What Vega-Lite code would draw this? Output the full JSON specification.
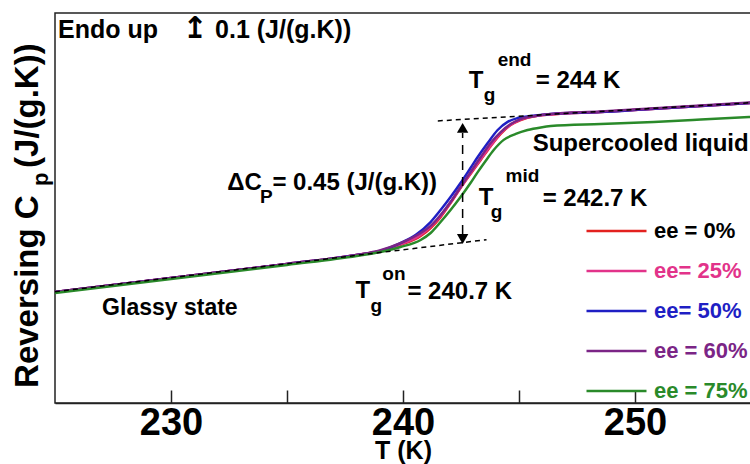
{
  "$schema": "https://vega.github.io/schema/vega-lite/v6.json",
  "width": 696,
  "height": 390,
  "autosize": {"type": "none"},
  "padding": {"left": 55, "top": 13, "right": 0, "bottom": 61},
  "background": "white",
  "config": {
    "font": "Liberation Sans",
    "view": {"stroke": "#222", "strokeWidth": 1.5}
  },
  "datasets": {
    "curves": [
      {"s":"ee = 0%","T":225,"Cp":1.427},{"s":"ee = 0%","T":230,"Cp":1.481},{"s":"ee = 0%","T":235,"Cp":1.535},{"s":"ee = 0%","T":238,"Cp":1.569},{"s":"ee = 0%","T":239.03,"Cp":1.585},{"s":"ee = 0%","T":239.89,"Cp":1.608},{"s":"ee = 0%","T":240.76,"Cp":1.642},{"s":"ee = 0%","T":241.62,"Cp":1.715},{"s":"ee = 0%","T":242.05,"Cp":1.769},{"s":"ee = 0%","T":242.48,"Cp":1.827},{"s":"ee = 0%","T":242.91,"Cp":1.881},{"s":"ee = 0%","T":243.35,"Cp":1.935},{"s":"ee = 0%","T":243.78,"Cp":1.988},{"s":"ee = 0%","T":244.21,"Cp":2.035},{"s":"ee = 0%","T":244.64,"Cp":2.069},{"s":"ee = 0%","T":245.07,"Cp":2.088},{"s":"ee = 0%","T":245.72,"Cp":2.104},{"s":"ee = 0%","T":246.37,"Cp":2.11},{"s":"ee = 0%","T":248.52,"Cp":2.119},{"s":"ee = 0%","T":250.68,"Cp":2.131},{"s":"ee = 0%","T":252.84,"Cp":2.142},{"s":"ee = 0%","T":255,"Cp":2.154},
      {"s":"ee= 25%","T":225,"Cp":1.427},{"s":"ee= 25%","T":230,"Cp":1.481},{"s":"ee= 25%","T":235,"Cp":1.535},{"s":"ee= 25%","T":238,"Cp":1.569},{"s":"ee= 25%","T":239.03,"Cp":1.585},{"s":"ee= 25%","T":239.89,"Cp":1.61},{"s":"ee= 25%","T":240.76,"Cp":1.646},{"s":"ee= 25%","T":241.62,"Cp":1.719},{"s":"ee= 25%","T":242.05,"Cp":1.772},{"s":"ee= 25%","T":242.48,"Cp":1.829},{"s":"ee= 25%","T":242.91,"Cp":1.884},{"s":"ee= 25%","T":243.35,"Cp":1.938},{"s":"ee= 25%","T":243.78,"Cp":1.99},{"s":"ee= 25%","T":244.21,"Cp":2.038},{"s":"ee= 25%","T":244.64,"Cp":2.07},{"s":"ee= 25%","T":245.07,"Cp":2.09},{"s":"ee= 25%","T":245.72,"Cp":2.104},{"s":"ee= 25%","T":246.37,"Cp":2.11},{"s":"ee= 25%","T":248.52,"Cp":2.119},{"s":"ee= 25%","T":250.68,"Cp":2.131},{"s":"ee= 25%","T":252.84,"Cp":2.142},{"s":"ee= 25%","T":255,"Cp":2.154},
      {"s":"ee= 50%","T":225,"Cp":1.427},{"s":"ee= 50%","T":230,"Cp":1.481},{"s":"ee= 50%","T":235,"Cp":1.535},{"s":"ee= 50%","T":238,"Cp":1.569},{"s":"ee= 50%","T":239.03,"Cp":1.585},{"s":"ee= 50%","T":239.89,"Cp":1.615},{"s":"ee= 50%","T":240.54,"Cp":1.646},{"s":"ee= 50%","T":241.19,"Cp":1.696},{"s":"ee= 50%","T":241.62,"Cp":1.742},{"s":"ee= 50%","T":242.05,"Cp":1.792},{"s":"ee= 50%","T":242.48,"Cp":1.846},{"s":"ee= 50%","T":242.91,"Cp":1.904},{"s":"ee= 50%","T":243.22,"Cp":1.946},{"s":"ee= 50%","T":243.65,"Cp":2.0},{"s":"ee= 50%","T":244.08,"Cp":2.05},{"s":"ee= 50%","T":244.51,"Cp":2.081},{"s":"ee= 50%","T":244.94,"Cp":2.096},{"s":"ee= 50%","T":245.5,"Cp":2.104},{"s":"ee= 50%","T":246.37,"Cp":2.112},{"s":"ee= 50%","T":248.52,"Cp":2.119},{"s":"ee= 50%","T":250.68,"Cp":2.131},{"s":"ee= 50%","T":252.84,"Cp":2.142},{"s":"ee= 50%","T":255,"Cp":2.154},
      {"s":"ee = 60%","T":225,"Cp":1.427},{"s":"ee = 60%","T":230,"Cp":1.481},{"s":"ee = 60%","T":235,"Cp":1.535},{"s":"ee = 60%","T":238,"Cp":1.569},{"s":"ee = 60%","T":239.03,"Cp":1.588},{"s":"ee = 60%","T":239.89,"Cp":1.615},{"s":"ee = 60%","T":240.76,"Cp":1.654},{"s":"ee = 60%","T":241.19,"Cp":1.681},{"s":"ee = 60%","T":241.62,"Cp":1.723},{"s":"ee = 60%","T":242.05,"Cp":1.773},{"s":"ee = 60%","T":242.48,"Cp":1.831},{"s":"ee = 60%","T":242.91,"Cp":1.888},{"s":"ee = 60%","T":243.35,"Cp":1.946},{"s":"ee = 60%","T":243.78,"Cp":2.0},{"s":"ee = 60%","T":244.21,"Cp":2.042},{"s":"ee = 60%","T":244.64,"Cp":2.073},{"s":"ee = 60%","T":245.07,"Cp":2.092},{"s":"ee = 60%","T":245.72,"Cp":2.104},{"s":"ee = 60%","T":246.37,"Cp":2.112},{"s":"ee = 60%","T":248.52,"Cp":2.121},{"s":"ee = 60%","T":250.68,"Cp":2.133},{"s":"ee = 60%","T":252.84,"Cp":2.144},{"s":"ee = 60%","T":255,"Cp":2.156},
      {"s":"ee = 75%","T":225,"Cp":1.423},{"s":"ee = 75%","T":230,"Cp":1.477},{"s":"ee = 75%","T":235,"Cp":1.531},{"s":"ee = 75%","T":238,"Cp":1.565},{"s":"ee = 75%","T":239.03,"Cp":1.581},{"s":"ee = 75%","T":239.89,"Cp":1.6},{"s":"ee = 75%","T":240.76,"Cp":1.627},{"s":"ee = 75%","T":241.19,"Cp":1.654},{"s":"ee = 75%","T":241.62,"Cp":1.696},{"s":"ee = 75%","T":242.05,"Cp":1.742},{"s":"ee = 75%","T":242.48,"Cp":1.792},{"s":"ee = 75%","T":242.91,"Cp":1.846},{"s":"ee = 75%","T":243.22,"Cp":1.888},{"s":"ee = 75%","T":243.56,"Cp":1.931},{"s":"ee = 75%","T":243.91,"Cp":1.973},{"s":"ee = 75%","T":244.34,"Cp":2.012},{"s":"ee = 75%","T":244.86,"Cp":2.035},{"s":"ee = 75%","T":245.37,"Cp":2.05},{"s":"ee = 75%","T":245.94,"Cp":2.06},{"s":"ee = 75%","T":246.37,"Cp":2.065},{"s":"ee = 75%","T":248.52,"Cp":2.073},{"s":"ee = 75%","T":250.81,"Cp":2.081},{"s":"ee = 75%","T":252.84,"Cp":2.09},{"s":"ee = 75%","T":255,"Cp":2.1}
    ],
    "tangents": [
      {"seg":"glass","T":225,"Cp":1.428},{"seg":"glass","T":243.6,"Cp":1.628},
      {"seg":"liquid","T":241.5,"Cp":2.085},{"seg":"liquid","T":255,"Cp":2.155}
    ],
    "arrowline": [{"T":242.57,"Cp":1.65,"Cp2":2.0385}],
    "arrowheads": [{"T":242.57,"Cp":2.058,"dir":"up"},{"T":242.57,"Cp":1.631,"dir":"down"}],
    "text24": [
      {"T":232.42,"Cp":1.819,"label":"ΔC"},
      {"T":234.37,"Cp":1.819,"label":"= 0.45 (J/(g.K))"},
      {"T":237.95,"Cp":1.404,"label":"T"},
      {"T":240.19,"Cp":1.4,"label":"= 240.7 K"},
      {"T":243.26,"Cp":1.7615,"label":"T"},
      {"T":246.02,"Cp":1.758,"label":"= 242.7 K"},
      {"T":242.83,"Cp":2.2115,"label":"T"},
      {"T":245.72,"Cp":2.2115,"label":"= 244 K"},
      {"T":245.59,"Cp":1.969,"label":"Supercooled liquid"}
    ],
    "text25": [
      {"T":225.13,"Cp":2.404,"label":"Endo up"},
      {"T":231.9,"Cp":2.404,"label":"0.1 (J/(g.K))"}
    ],
    "arrowglyph": [
      {"T":230.5,"Cp":2.404,"label":"↥"}
    ],
    "text19": [
      {"T":233.84,"Cp":1.769,"label":"P"},
      {"T":238.6,"Cp":1.35,"label":"g"},
      {"T":239.11,"Cp":1.473,"label":"on"},
      {"T":243.78,"Cp":1.7115,"label":"g"},
      {"T":244.42,"Cp":1.85,"label":"mid"},
      {"T":243.48,"Cp":2.1615,"label":"g"},
      {"T":244.08,"Cp":2.296,"label":"end"}
    ],
    "text22": [
      {"T":227.03,"Cp":1.338,"label":"Glassy state"}
    ],
    "ytitle": [
      {"T":224.27,"Cp":1.058,"label":"Reversing C"},
      {"T":224.27,"Cp":1.904,"label":"(J/(g.K))"}
    ],
    "ysub": [
      {"T":224.7,"Cp":1.835,"label":"p"}
    ]
  },
  "layer": [
    {
      "data": {"name": "curves"},
      "mark": {"type": "line", "strokeWidth": 2.5, "interpolate": "monotone"},
      "encoding": {
        "x": {
          "field": "T", "type": "quantitative",
          "scale": {"domain": [225, 255], "nice": false, "zero": false},
          "axis": {
            "values": [230, 235, 240, 245, 250],
            "labelExpr": "datum.value == 235 || datum.value == 245 ? '' : datum.label",
            "tickSize": -13, "tickWidth": 1.5, "tickColor": "#222",
            "domainColor": "#222", "domainWidth": 1.5, "grid": false,
            "labelFontSize": 38, "labelFontWeight": "bold", "labelColor": "black",
            "labelPadding": 14, "labelFlush": false, "labelOverlap": false,
            "title": "T (K)", "titleFontSize": 25, "titleFontWeight": "bold", "titleColor": "black",
            "titleY": 35, "titleBaseline": "top",
            "encode": {"ticks": {"update": {"y2": {"signal": "datum.value == 235 || datum.value == 245 ? -7 : -13"}}}}
          }
        },
        "y": {"field": "Cp", "type": "quantitative", "scale": {"domain": [1, 2.5], "nice": false, "zero": false}, "axis": null},
        "color": {
          "field": "s", "type": "nominal",
          "scale": {"domain": ["ee = 0%", "ee= 25%", "ee= 50%", "ee = 60%", "ee = 75%"], "range": ["#e3211f", "#e2338a", "#1f1fc4", "#7b2586", "#2a8a2a"]},
          "legend": {
            "title": null, "orient": "none", "legendX": 530, "legendY": 206,
            "symbolType": "stroke", "symbolSize": 3600, "symbolStrokeWidth": 2.5,
            "labelFontSize": 22, "labelFontWeight": "bold", "labelFont": "Liberation Sans",
            "labelOffset": 6, "rowPadding": 16, "clipHeight": 24, "padding": 0, "labelLimit": 300,
            "encode": {"labels": {"update": {"fill": {"signal": "datum.value === 'ee = 0%' ? 'black' : scale('color', datum.value)"}}}}
          }
        }
      }
    },
    {
      "data": {"name": "tangents"},
      "mark": {"type": "line", "strokeDash": [5, 4], "strokeWidth": 1.5, "color": "black"},
      "encoding": {
        "x": {"field": "T", "type": "quantitative"},
        "y": {"field": "Cp", "type": "quantitative", "axis": null},
        "detail": {"field": "seg"}
      }
    },
    {
      "data": {"name": "arrowline"},
      "mark": {"type": "rule", "strokeDash": [9, 7], "strokeWidth": 1.5, "color": "black"},
      "encoding": {
        "x": {"field": "T", "type": "quantitative"},
        "y": {"field": "Cp", "type": "quantitative", "axis": null},
        "y2": {"field": "Cp2"}
      }
    },
    {
      "data": {"name": "arrowheads"},
      "mark": {"type": "point", "filled": true, "color": "black", "size": 130, "opacity": 1},
      "encoding": {
        "x": {"field": "T", "type": "quantitative"},
        "y": {"field": "Cp", "type": "quantitative", "axis": null},
        "shape": {"field": "dir", "type": "nominal", "scale": {"domain": ["up", "down"], "range": ["triangle-up", "triangle-down"]}, "legend": null}
      }
    },
    {
      "data": {"name": "text24"},
      "mark": {"type": "text", "fontSize": 24, "fontWeight": "bold", "align": "left", "baseline": "alphabetic", "color": "black"},
      "encoding": {
        "x": {"field": "T", "type": "quantitative"},
        "y": {"field": "Cp", "type": "quantitative", "axis": null},
        "text": {"field": "label"}
      }
    },
    {
      "data": {"name": "text25"},
      "mark": {"type": "text", "fontSize": 25, "fontWeight": "bold", "align": "left", "baseline": "alphabetic", "color": "black"},
      "encoding": {
        "x": {"field": "T", "type": "quantitative"},
        "y": {"field": "Cp", "type": "quantitative", "axis": null},
        "text": {"field": "label"}
      }
    },
    {
      "data": {"name": "arrowglyph"},
      "mark": {"type": "text", "fontSize": 30, "fontWeight": "bold", "font": "DejaVu Sans", "align": "left", "baseline": "alphabetic", "color": "black"},
      "encoding": {
        "x": {"field": "T", "type": "quantitative"},
        "y": {"field": "Cp", "type": "quantitative", "axis": null},
        "text": {"field": "label"}
      }
    },
    {
      "data": {"name": "text19"},
      "mark": {"type": "text", "fontSize": 19, "fontWeight": "bold", "align": "left", "baseline": "alphabetic", "color": "black"},
      "encoding": {
        "x": {"field": "T", "type": "quantitative"},
        "y": {"field": "Cp", "type": "quantitative", "axis": null},
        "text": {"field": "label"}
      }
    },
    {
      "data": {"name": "text22"},
      "mark": {"type": "text", "fontSize": 23, "fontWeight": "bold", "align": "left", "baseline": "alphabetic", "color": "black"},
      "encoding": {
        "x": {"field": "T", "type": "quantitative"},
        "y": {"field": "Cp", "type": "quantitative", "axis": null},
        "text": {"field": "label"}
      }
    },
    {
      "data": {"name": "ytitle"},
      "mark": {"type": "text", "fontSize": 33, "fontWeight": "bold", "align": "left", "baseline": "alphabetic", "angle": 270, "color": "black"},
      "encoding": {
        "x": {"field": "T", "type": "quantitative"},
        "y": {"field": "Cp", "type": "quantitative", "axis": null},
        "text": {"field": "label"}
      }
    },
    {
      "data": {"name": "ysub"},
      "mark": {"type": "text", "fontSize": 22, "fontWeight": "bold", "align": "left", "baseline": "alphabetic", "angle": 270, "color": "black"},
      "encoding": {
        "x": {"field": "T", "type": "quantitative"},
        "y": {"field": "Cp", "type": "quantitative", "axis": null},
        "text": {"field": "label"}
      }
    }
  ]
}
